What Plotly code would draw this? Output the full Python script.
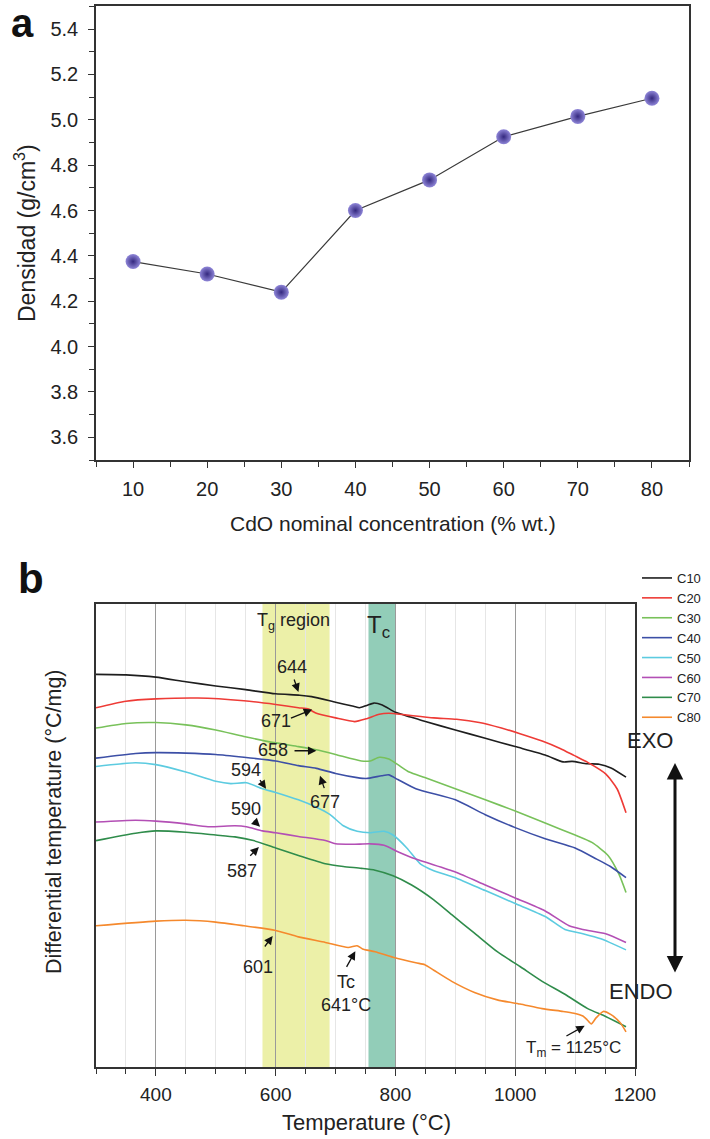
import plotly.graph_objects as go

# ---------------- Panel a data ----------------
conc = [10, 20, 30, 40, 50, 60, 70, 80]
density = [4.375, 4.32, 4.24, 4.60, 4.735, 4.925, 5.015, 5.095]

# ---------------- Panel b data (arbitrary DTA units, 0-100) ----------------
C10_T = [300, 350, 400, 450, 500, 550, 600, 640, 660, 700, 730, 740, 752, 764, 778, 800, 825, 850, 900, 950, 1000, 1050, 1080, 1095, 1120, 1140, 1160, 1185]
C10_Y = [84.8, 84.7, 84.2, 83.2, 82.3, 81.5, 80.6, 80.3, 80.0, 78.8, 77.9, 77.6, 78.1, 78.6, 78.2, 76.6, 75.6, 74.6, 72.8, 71.0, 69.2, 67.4, 65.9, 66.0, 65.5, 65.4, 64.6, 62.6]

C20_T = [300, 350, 400, 470, 547, 600, 638, 655, 662, 668, 700, 732, 751, 773, 789, 819, 864, 902, 940, 977, 1008, 1045, 1075, 1098, 1121, 1151, 1170, 1185]
C20_Y = [77.6, 79.0, 79.5, 79.7, 79.1, 78.3, 77.6, 77.3, 76.8, 76.4, 75.4, 74.6, 75.2, 76.2, 76.4, 76.0, 75.4, 75.1, 74.4, 73.2, 72.0, 70.4, 68.8, 67.3, 65.8, 63.3, 60.1, 54.9]

C30_T = [300, 350, 400, 450, 500, 547, 600, 638, 668, 700, 743, 758, 773, 789, 804, 823, 849, 900, 950, 1000, 1050, 1100, 1128, 1155, 1173, 1185]
C30_Y = [73.2, 74.2, 74.4, 73.9, 72.8, 71.4, 70.0, 69.2, 68.5, 67.5, 66.1, 66.1, 66.9, 66.5, 65.3, 63.7, 62.5, 60.1, 57.7, 55.3, 52.7, 50.1, 48.5, 45.7, 41.7, 37.7]

C40_T = [300, 366, 400, 450, 500, 547, 600, 638, 668, 700, 736, 751, 777, 789, 804, 834, 900, 950, 1000, 1050, 1100, 1136, 1159, 1185]
C40_Y = [66.7, 67.7, 67.9, 67.8, 67.5, 66.9, 66.1, 65.1, 64.5, 63.4, 62.5, 62.3, 62.9, 63.1, 62.1, 60.1, 57.7, 54.5, 51.7, 49.3, 47.3, 44.9, 43.3, 40.9]

C50_T = [300, 366, 400, 450, 500, 525, 551, 578, 600, 638, 668, 691, 713, 736, 758, 781, 796, 819, 842, 864, 900, 950, 1000, 1050, 1083, 1113, 1143, 1185]
C50_Y = [64.9, 65.7, 65.3, 63.7, 61.7, 61.2, 61.4, 60.1, 59.3, 57.7, 56.1, 54.5, 52.1, 50.9, 50.6, 50.9, 50.1, 47.3, 43.8, 42.4, 40.9, 38.1, 35.3, 32.5, 29.7, 28.8, 27.7, 25.3]

C60_T = [300, 366, 400, 450, 487, 532, 551, 578, 600, 638, 683, 700, 728, 758, 781, 804, 834, 900, 950, 1000, 1050, 1090, 1113, 1151, 1185]
C60_Y = [52.9, 53.3, 53.1, 52.5, 51.9, 52.1, 51.9, 51.0, 50.6, 49.8, 48.9, 48.2, 48.1, 48.2, 47.9, 46.5, 44.9, 42.1, 39.3, 36.5, 33.7, 30.5, 29.7, 28.8, 26.9]

C70_T = [300, 366, 400, 450, 500, 532, 563, 600, 638, 683, 713, 743, 766, 796, 827, 864, 894, 932, 970, 1008, 1045, 1083, 1121, 1151, 1185]
C70_Y = [48.9, 50.5, 51.0, 50.7, 50.1, 49.7, 48.9, 47.3, 45.7, 43.9, 43.3, 42.9, 42.5, 41.3, 39.3, 36.1, 32.9, 28.9, 24.9, 21.7, 18.5, 15.7, 12.6, 10.9, 8.7]

C80_T = [300, 400, 450, 500, 547, 600, 638, 683, 721, 736, 745, 766, 796, 834, 849, 864, 894, 932, 970, 1008, 1045, 1080, 1098, 1113, 1120, 1127, 1135, 1147, 1160, 1175, 1185]
C80_Y = [30.5, 31.5, 31.7, 31.3, 30.5, 29.5, 28.1, 26.9, 25.8, 26.2, 25.5, 24.9, 23.7, 22.5, 22.1, 20.9, 18.5, 16.1, 14.5, 13.6, 12.6, 12.0, 11.6, 11.0, 10.2, 9.3, 10.6, 12.0, 11.3, 9.6, 7.6]

series_names = ["C10", "C20", "C30", "C40", "C50", "C60", "C70", "C80"]
series_T = [C10_T, C20_T, C30_T, C40_T, C50_T, C60_T, C70_T, C80_T]
series_Y = [C10_Y, C20_Y, C30_Y, C40_Y, C50_Y, C60_Y, C70_Y, C80_Y]
series_colors = ["#1e1e1e", "#ee3b36", "#78c15a", "#3c4fa6", "#5ccbe0", "#b34fb5", "#2f8c4b", "#f5892d"]

# annotations: (label, text_T, text_Y, tail_T, tail_Y, head_T, head_Y)
ann_labels = ["644", "671", "658", "594", "677", "590", "587", "601", "Tc<br>641°C", "T<sub>m</sub> = 1125°C"]
ann_text_T = [627, 600, 595, 550, 682, 550, 544, 571, 717, 1097]
ann_text_Y = [86.4, 74.7, 68.5, 64.1, 57.2, 55.7, 42.3, 21.5, 15.8, 3.8]
ann_tail_T = [630, 623, 629, 572, 682, 561, 555, 580, 717, 1083]
ann_tail_Y = [84.0, 75.2, 68.3, 62.3, 59.9, 53.5, 45.3, 25.7, 21.3, 6.5]
ann_head_T = [638, 661, 668, 584, 674, 574, 572, 595, 733, 1116]
ann_head_Y = [81.0, 77.2, 68.3, 60.1, 62.9, 51.9, 47.5, 28.3, 25.0, 8.9]

tg_band = [578, 690]
tc_band = [755, 800]

FONT = "Liberation Sans, Arial, sans-serif"
W, H = 710, 1139


def px(x):
    return x / W


def py(y):
    return 1 - y / H


fig = go.Figure()

# Panel a
fig.add_trace(go.Scatter(
    x=conc, y=density, mode="lines+markers", xaxis="x", yaxis="y",
    line=dict(color="#3a3a3a", width=1.2),
    marker=dict(size=15, color="#8f86d8", line=dict(width=0),
                gradient=dict(type="radial", color="#34287f")),
    showlegend=False, hoverinfo="skip"))

# Panel b
for name, T, Y, c in zip(series_names, series_T, series_Y, series_colors):
    fig.add_trace(go.Scatter(
        x=T, y=Y, mode="lines", name=name, xaxis="x2", yaxis="y2",
        line=dict(color=c, width=1.6, shape="spline", smoothing=0.6)))

axis_line = dict(showline=True, linecolor="#333333", linewidth=1.5, mirror=True,
                 zeroline=False)

fig.update_layout(
    width=W, height=H,
    margin=dict(l=0, r=0, t=0, b=0, autoexpand=False),
    paper_bgcolor="white", plot_bgcolor="white",
    font=dict(family=FONT, color="#222222"),
    xaxis=dict(domain=[px(96), px(689)], anchor="y", range=[5, 85],
               tick0=0, dtick=10, ticks="outside", ticklen=6, tickwidth=1.3,
               tickcolor="#333", showgrid=False,
               tickfont=dict(size=20), ticklabelstandoff=4,
               minor=dict(dtick=5, ticks="outside", ticklen=5, tickwidth=1.2, tickcolor="#333", showgrid=False),
               **axis_line),
    yaxis=dict(domain=[py(460), py(6.4)], anchor="x", range=[3.5, 5.5],
               tick0=0, dtick=0.2, tickformat=".1f", ticks="outside", ticklen=6, tickwidth=1.3,
               tickcolor="#333", showgrid=False, tickfont=dict(size=20),
               ticklabelstandoff=6,
               minor=dict(dtick=0.1, ticks="outside", ticklen=5, tickwidth=1.2, tickcolor="#333", showgrid=False),
               **axis_line),
    xaxis2=dict(domain=[px(96), px(635)], anchor="y2", range=[300, 1200],
                tick0=0, dtick=200, ticks="outside", ticklen=7, tickwidth=1.4,
                tickcolor="#333", showgrid=True, gridcolor="#9a9a9a", gridwidth=1,
                tickfont=dict(size=19), ticklabelstandoff=2,
                minor=dict(dtick=50, ticks="outside", ticklen=5, tickwidth=1.2, tickcolor="#333",
                           showgrid=True, gridcolor="#e6e6e6", gridwidth=1),
                **axis_line),
    yaxis2=dict(domain=[py(1067), py(604)], anchor="x2", range=[0, 100],
                showticklabels=False, ticks="", showgrid=False, **axis_line),
    legend=dict(x=px(637), y=py(563), xanchor="left", yanchor="top",
                font=dict(size=13, family=FONT), bgcolor="rgba(0,0,0,0)",
                itemwidth=30, tracegroupgap=0),
    shapes=[
        dict(type="rect", xref="x2", yref="y2", x0=tg_band[0], x1=tg_band[1], y0=0, y1=100,
             fillcolor="rgb(236,240,168)", line=dict(width=0), layer="below"),
        dict(type="rect", xref="x2", yref="y2", x0=tc_band[0], x1=tc_band[1], y0=0, y1=100,
             fillcolor="rgb(146,205,184)", line=dict(width=0), layer="below"),
    ],
)

annotations = [
    # panel letters
    dict(text="<b>a</b>", x=px(22), y=py(23), xref="paper", yref="paper", showarrow=False,
         font=dict(size=40, family=FONT, color="#111"), xanchor="center", yanchor="middle"),
    dict(text="<b>b</b>", x=px(31), y=py(578), xref="paper", yref="paper", showarrow=False,
         font=dict(size=42, family=FONT, color="#111"), xanchor="center", yanchor="middle"),
    # axis titles panel a
    dict(text="CdO nominal concentration (% wt.)", x=px(393), y=py(523), xref="paper", yref="paper",
         showarrow=False, font=dict(size=21, family=FONT), xanchor="center", yanchor="middle"),
    dict(text="Densidad (g/cm<sup>3</sup>)", x=px(25), y=py(233), xref="paper", yref="paper",
         showarrow=False, textangle=-90, font=dict(size=23, family=FONT), xanchor="center", yanchor="middle"),
    # axis titles panel b
    dict(text="Temperature (°C)", x=px(366), y=py(1122), xref="paper", yref="paper",
         showarrow=False, font=dict(size=22, family=FONT), xanchor="center", yanchor="middle"),
    dict(text="Differential temperature (°C/mg)", x=px(54), y=py(822), xref="paper", yref="paper",
         showarrow=False, textangle=-90, font=dict(size=21.5, family=FONT), xanchor="center", yanchor="middle"),
    # band labels
    dict(text="T<sub>g</sub> region", x=630, y=96.3, xref="x2", yref="y2", showarrow=False,
         font=dict(size=18, family=FONT)),
    dict(text="T<sub>c</sub>", x=771, y=95.2, xref="x2", yref="y2", showarrow=False,
         font=dict(size=24, family=FONT)),
    # EXO / ENDO
    dict(text="EXO", x=px(675), y=py(740), xref="paper", yref="paper", showarrow=False,
         font=dict(size=22, family=FONT)),
    dict(text="ENDO", x=px(675), y=py(1006), xref="paper", yref="paper", showarrow=False,
         font=dict(size=22, family=FONT)),
    dict(text="", x=px(675), y=py(763), xref="paper", yref="paper", showarrow=True,
         ax=0, ay=211, axref="pixel", ayref="pixel", arrowhead=2, arrowside="end+start",
         arrowsize=1.1, arrowwidth=3, arrowcolor="#111"),
]

for lab, tx, ty, ax_, ay_, hx, hy in zip(ann_labels, ann_text_T, ann_text_Y, ann_tail_T, ann_tail_Y,
                                       ann_head_T, ann_head_Y):
    annotations.append(dict(text=lab, x=tx, y=ty, xref="x2", yref="y2", showarrow=False,
                            font=dict(size=18 if "T<sub>m" not in lab else 17, family=FONT)))
    annotations.append(dict(text="", x=hx, y=hy, xref="x2", yref="y2", ax=ax_, ay=ay_,
                            axref="x2", ayref="y2", showarrow=True, arrowhead=2, arrowsize=1.3,
                            arrowwidth=1.3, arrowcolor="#111"))

fig.update_layout(annotations=annotations)

fig.write_html("out.html")
